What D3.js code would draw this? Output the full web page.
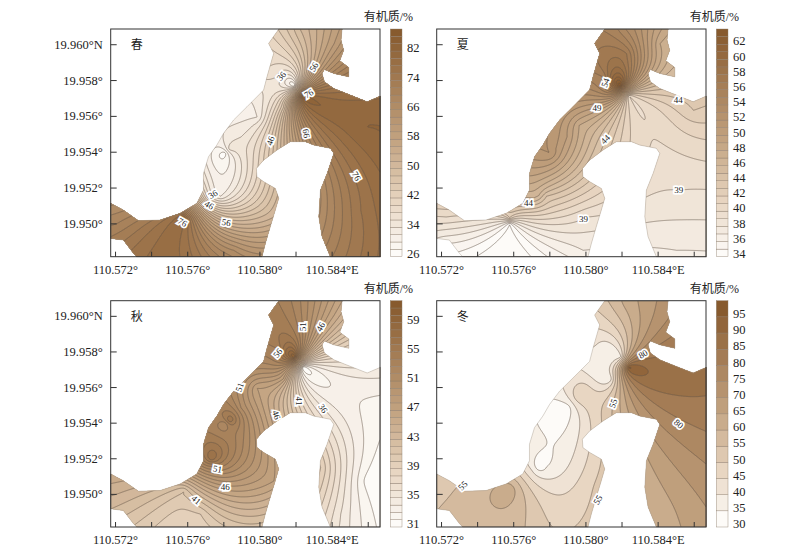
<!DOCTYPE html>
<html>
<head>
<meta charset="utf-8">
<script src="https://cdnjs.cloudflare.com/ajax/libs/d3/7.8.5/d3.min.js"></script>
<style>
  body { margin: 0; background: #fff; }
  text { font-family: "Liberation Serif", serif; fill: #222; }
  .cjk { font-family: "Noto Sans CJK SC", sans-serif; }
</style>
</head>
<body>
<svg id="chart" width="800" height="555"></svg>
<script>
// sampling stations (the + marks), same for every season
const stationLon = [110.58190, 110.58242, 110.58131, 110.57986, 110.57964, 110.57897, 110.57835, 110.57805, 110.57783, 110.57740, 110.57712, 110.57579, 110.57579, 110.57579, 110.58097, 110.58038];
const stationLat = [19.95772, 19.95711, 19.95647, 19.95595, 19.95549, 19.95484, 19.95419, 19.95391, 19.95153, 19.95156, 19.95143, 19.95033, 19.95015, 19.94996, 19.95818, 19.95846];

const springValues = [28, 84, 46, 32, 34, 34, 35, 27, 32, 34, 38, 80, 80, 78, 36, 38];
const summerValues = [64, 40, 48, 49, 48, 50, 51, 52, 44, 46, 46, 42, 38, 34, 56, 56];
const autumnValues = [60, 31, 47, 47, 48, 51, 56, 52, 53, 53, 52, 42, 41, 41, 54, 54];
const winterValues = [38, 96, 36, 48, 50, 32, 32, 33, 35, 31, 38, 63, 63, 62, 36, 42];

const springExtra = [[110.58597, 19.95539, 82], [110.58560, 19.95074, 76], [110.58079, 19.95037, 52], [110.57857, 19.94851, 66], [110.57209, 19.95, 70], [110.58227, 19.96079, 50], [110.58412, 19.96004, 60], [110.58338, 19.9566, 82]];
const summerExtra = [[110.58597, 19.95632, 43], [110.58523, 19.95186, 39], [110.58504, 19.94851, 37], [110.58005, 19.95037, 39], [110.57986, 19.94851, 37], [110.57228, 19.95037, 40], [110.57209, 19.94888, 36], [110.58227, 19.96079, 54], [110.58412, 19.96004, 48], [110.58227, 19.95949, 57]];
const autumnExtra = [[110.58597, 19.95539, 33], [110.58597, 19.95074, 31.5], [110.58338, 19.95149, 40], [110.58079, 19.95074, 47], [110.57672, 19.94888, 40], [110.57209, 19.95, 44], [110.58227, 19.96079, 52], [110.58412, 19.96004, 46], [110.58449, 19.94888, 35], [110.57733, 19.95205, 57]];
const winterExtra = [[110.58597, 19.95595, 86], [110.58560, 19.95074, 70], [110.58412, 19.94888, 62], [110.58079, 19.95037, 52], [110.57857, 19.94851, 48], [110.57209, 19.95019, 54], [110.58227, 19.96079, 62], [110.58412, 19.96004, 72], [110.5745, 19.94851, 58], [110.57731, 19.95298, 37]];

// contour labels: lon, lat, text, rotation
const springLabels = [[110.58121, 19.95822, "36", -50], [110.58301, 19.95874, "56", -60], [110.58273, 19.95725, "76", -30], [110.58260, 19.95502, "66", 80], [110.58060, 19.95461, "46", -70], [110.58538, 19.95264, "76", 60], [110.57742, 19.95162, "36", -30], [110.57722, 19.95102, "46", 30], [110.57574, 19.95006, "76", 30], [110.57816, 19.95006, "56", 10]];
const summerLabels = [[110.58110, 19.95785, "54", -70], [110.58064, 19.95645, "49", 0], [110.58110, 19.95469, "44", -45], [110.58514, 19.95692, "44", 0], [110.57685, 19.95115, "44", 0], [110.58517, 19.95186, "39", 0], [110.57990, 19.95028, "39", 0]];
const autumnLabels = [[110.58238, 19.95939, "51", -90], [110.58338, 19.95939, "46", -60], [110.58101, 19.95791, "56", -50], [110.57890, 19.95599, "51", -70], [110.58221, 19.95521, "41", 90], [110.58353, 19.95480, "36", 55], [110.58094, 19.95443, "46", 70], [110.57768, 19.95140, "51", 10], [110.57811, 19.95041, "46", 0], [110.57650, 19.94967, "41", 40]];
const winterLabels = [[110.58319, 19.95785, "80", -30], [110.58153, 19.95508, "55", -70], [110.58517, 19.95394, "80", 40], [110.57320, 19.95047, "55", -45], [110.58068, 19.94967, "55", -60]];

// water area outline, lon / lat
const seaLon = [110.58107, 110.58458, 110.58452, 110.58467, 110.58445, 110.58495, 110.58495, 110.58412, 110.58360, 110.58347, 110.58360, 110.58412, 110.58504, 110.58597, 110.58671, 110.58671, 110.58412, 110.58393, 110.58347, 110.58329, 110.58338, 110.58375, 110.58412, 110.58393, 110.58301, 110.58255, 110.58171, 110.58097, 110.58023, 110.57983, 110.57986, 110.58023, 110.58088, 110.58107, 110.58088, 110.58060, 110.58033, 110.58014, 110.57320, 110.57302, 110.57246, 110.57176, 110.57176, 110.57246, 110.57330, 110.57450, 110.57561, 110.57653, 110.57690, 110.57690, 110.57718, 110.57764, 110.57801, 110.57857, 110.57931, 110.58023, 110.58042, 110.58079, 110.58051];
const seaLat = [19.96084, 19.96084, 19.96023, 19.95967, 19.95908, 19.95870, 19.95818, 19.95837, 19.95859, 19.95837, 19.95791, 19.95753, 19.95716, 19.95679, 19.95711, 19.94814, 19.94814, 19.94814, 19.94926, 19.95037, 19.95186, 19.95279, 19.95391, 19.95419, 19.95437, 19.95456, 19.95456, 19.95409, 19.95353, 19.95307, 19.95260, 19.95233, 19.95195, 19.95140, 19.95074, 19.94981, 19.94888, 19.94814, 19.94814, 19.94833, 19.94907, 19.94916, 19.95112, 19.95074, 19.95015, 19.95019, 19.95056, 19.95112, 19.95186, 19.95279, 19.95372, 19.95437, 19.95502, 19.95577, 19.95651, 19.95744, 19.95818, 19.95949, 19.96004];

const lonTicks = [110.572, 110.574, 110.576, 110.578, 110.580, 110.582, 110.584, 110.586];
const lonLabels = ["110.572°", "", "110.576°", "", "110.580°", "", "110.584°E", ""];
const latTicks = [19.950, 19.952, 19.954, 19.956, 19.958, 19.960];
const latLabels = ["19.950°", "19.952°", "19.954°", "19.956°", "19.958°", "19.960°N"];

const seasons = ["春", "夏", "秋", "冬"];
const barLabels = [
  [26, 34, 42, 50, 58, 66, 74, 82],
  [34, 36, 38, 40, 42, 44, 46, 48, 50, 52, 54, 56, 58, 60, 62],
  [31, 35, 39, 43, 47, 51, 55, 59],
  [30, 35, 40, 45, 50, 55, 60, 65, 70, 75, 80, 85, 90, 95]
];
const levelRange = [[26, 88, 2], [34, 64, 1], [31, 62, 1], [30, 100, 5]];
const lonDomain = [110.57176, 110.58668];
const latDomain = [19.94814, 19.96085];

const panels = [
  { x: 110.7, y: 29, h: 227.7, values: springValues, extra: springExtra, labels: springLabels, yAxis: true },
  { x: 436.7, y: 29, h: 227.7, values: summerValues, extra: summerExtra, labels: summerLabels, yAxis: false },
  { x: 110.7, y: 300.7, h: 226.3, values: autumnValues, extra: autumnExtra, labels: autumnLabels, yAxis: true },
  { x: 436.7, y: 300.7, h: 226.3, values: winterValues, extra: winterExtra, labels: winterLabels, yAxis: false }
];
const panelW = 269.3;

const ramp = d3.scaleLinear()
  .domain([0, 0.25, 0.5, 0.75, 1])
  .range(["#fdfbf8", "#e6d3be", "#c4a583", "#a67f58", "#875a2e"]);

// kriging with a linear variogram: solve for the weights once, then evaluate on a grid
function solveWeights(pts) {
  const n = pts.length;
  const A = [];
  for (let i = 0; i <= n; i++) {
    A.push(new Array(n + 2).fill(0));
    for (let j = 0; j < n; j++) {
      A[i][j] = i < n ? Math.hypot(pts[i][0] - pts[j][0], pts[i][1] - pts[j][1]) : 1;
    }
    A[i][n] = i < n ? 1 : 0;
    A[i][n + 1] = i < n ? pts[i][2] : 0;
  }
  for (let c = 0; c <= n; c++) {
    let p = c;
    for (let r = c + 1; r <= n; r++) if (Math.abs(A[r][c]) > Math.abs(A[p][c])) p = r;
    [A[c], A[p]] = [A[p], A[c]];
    for (let r = 0; r <= n; r++) {
      if (r === c) continue;
      const f = A[r][c] / A[c][c];
      for (let k = c; k <= n + 1; k++) A[r][k] -= f * A[c][k];
    }
  }
  return A.map((row, i) => row[n + 1] / row[i]);
}

const svg = d3.select("#chart");

panels.forEach((p, idx) => {
  const x = d3.scaleLinear().domain(lonDomain).range([0, panelW]);
  const y = d3.scaleLinear().domain(latDomain).range([p.h, 0]);
  const [lo, hi, step] = levelRange[idx];
  const levels = d3.range(lo, hi, step);
  const colour = v => ramp((v - lo) / (hi - step - lo));

  const g = svg.append("g").attr("transform", `translate(${p.x},${p.y})`);

  g.append("clipPath").attr("id", "sea" + idx)
    .append("polygon")
    .attr("points", seaLon.map((d, i) => x(d) + "," + y(seaLat[i])).join(" "));

  // scattered values in pixel space
  const pts = p.values.map((v, i) => [x(stationLon[i]), y(stationLat[i]), v])
    .concat(p.extra.map(d => [x(d[0]), y(d[1]), d[2]]));
  const w = solveWeights(pts);
  const n = pts.length;
  const res = 2;
  const gw = Math.ceil(panelW * res), gh = Math.ceil(p.h * res);
  const grid = new Float64Array(gw * gh);
  for (let j = 0; j < gh; j++) {
    for (let i = 0; i < gw; i++) {
      let s = w[n];
      for (let k = 0; k < n; k++) {
        s += w[k] * Math.hypot(i / res - pts[k][0], j / res - pts[k][1]);
      }
      grid[j * gw + i] = s;
    }
  }

  const contours = d3.contours().size([gw, gh]).thresholds(levels)(grid);
  const path = d3.geoPath(d3.geoTransform({
    point(px, py) { this.stream.point(px / res, py / res); }
  }));

  const map = g.append("g").attr("clip-path", `url(#sea${idx})`);
  map.append("rect").attr("width", panelW).attr("height", p.h).attr("fill", colour(lo));
  map.selectAll("path.band")
    .data(contours)
    .enter().append("path")
    .attr("class", "band")
    .attr("d", path)
    .attr("fill", d => colour(d.value))
    .attr("stroke", "#66584c")
    .attr("stroke-width", 0.55);

  g.append("polygon")
    .attr("points", seaLon.map((d, i) => x(d) + "," + y(seaLat[i])).join(" "))
    .attr("fill", "none")
    .attr("stroke", "#a09488")
    .attr("stroke-width", 0.4);

  // stations
  g.selectAll("path.station")
    .data(stationLon)
    .enter().append("path")
    .attr("class", "station")
    .attr("d", d3.symbol().type(d3.symbolPlus).size(9))
    .attr("transform", (d, i) => `translate(${x(d)},${y(stationLat[i])})`)
    .attr("fill", "#5a4c40");

  // contour labels
  g.selectAll("text.lab")
    .data(p.labels)
    .enter().append("text")
    .attr("class", "lab")
    .attr("transform", d => `translate(${x(d[0])},${y(d[1])}) rotate(${d[3]})`)
    .attr("text-anchor", "middle")
    .attr("dy", "0.35em")
    .attr("font-size", 9)
    .attr("stroke", "#fff")
    .attr("stroke-width", 3.5)
    .attr("paint-order", "stroke")
    .text(d => d[2]);

  // frame and axes, ticks pointing inward
  g.append("rect").attr("width", panelW).attr("height", p.h)
    .attr("fill", "none").attr("stroke", "#333").attr("stroke-width", 1);

  const xAxis = d3.axisBottom(x).tickValues(lonTicks).tickSize(-5).tickPadding(8)
    .tickFormat((d, i) => lonLabels[i]);
  const ax = g.append("g").attr("transform", `translate(0,${p.h})`).call(xAxis);
  const yAxis = d3.axisLeft(y).tickValues(latTicks).tickSize(-6).tickPadding(8)
    .tickFormat((d, i) => p.yAxis ? latLabels[i] : "");
  const ay = g.append("g").call(yAxis);
  [ax, ay].forEach(a => {
    a.select(".domain").remove();
    a.selectAll("line").attr("stroke", "#333");
    a.selectAll("text").attr("font-size", 12.5).attr("font-family", '"Liberation Serif", serif').attr("fill", "#222");
  });

  g.append("text").attr("class", "cjk")
    .attr("x", 20).attr("y", 20)
    .attr("font-size", 12).text(seasons[idx]);

  // colour bar
  const barX = panelW + 10.3, barW = 11.7;
  const by = d3.scaleLinear().domain([lo, hi]).range([p.h, 0]);
  g.selectAll("rect.bar")
    .data(levels)
    .enter().append("rect")
    .attr("class", "bar")
    .attr("x", barX).attr("width", barW)
    .attr("y", d => by(d + step)).attr("height", d => by(d) - by(d + step))
    .attr("fill", d => colour(d))
    .attr("stroke", "#8c7c6c").attr("stroke-width", 0.4);

  g.selectAll("text.tick")
    .data(barLabels[idx])
    .enter().append("text")
    .attr("class", "tick")
    .attr("x", barX + barW + 5).attr("y", d => by(d))
    .attr("dy", "0.1em")
    .attr("font-size", 12.5)
    .text(d => d);

  const unit = g.append("text")
    .attr("x", barX + barW + 11).attr("y", -8)
    .attr("text-anchor", "end").attr("font-size", 12);
  unit.append("tspan").attr("class", "cjk").text("有机质");
  unit.append("tspan").text("/%");
});
</script>
</body>
</html>
